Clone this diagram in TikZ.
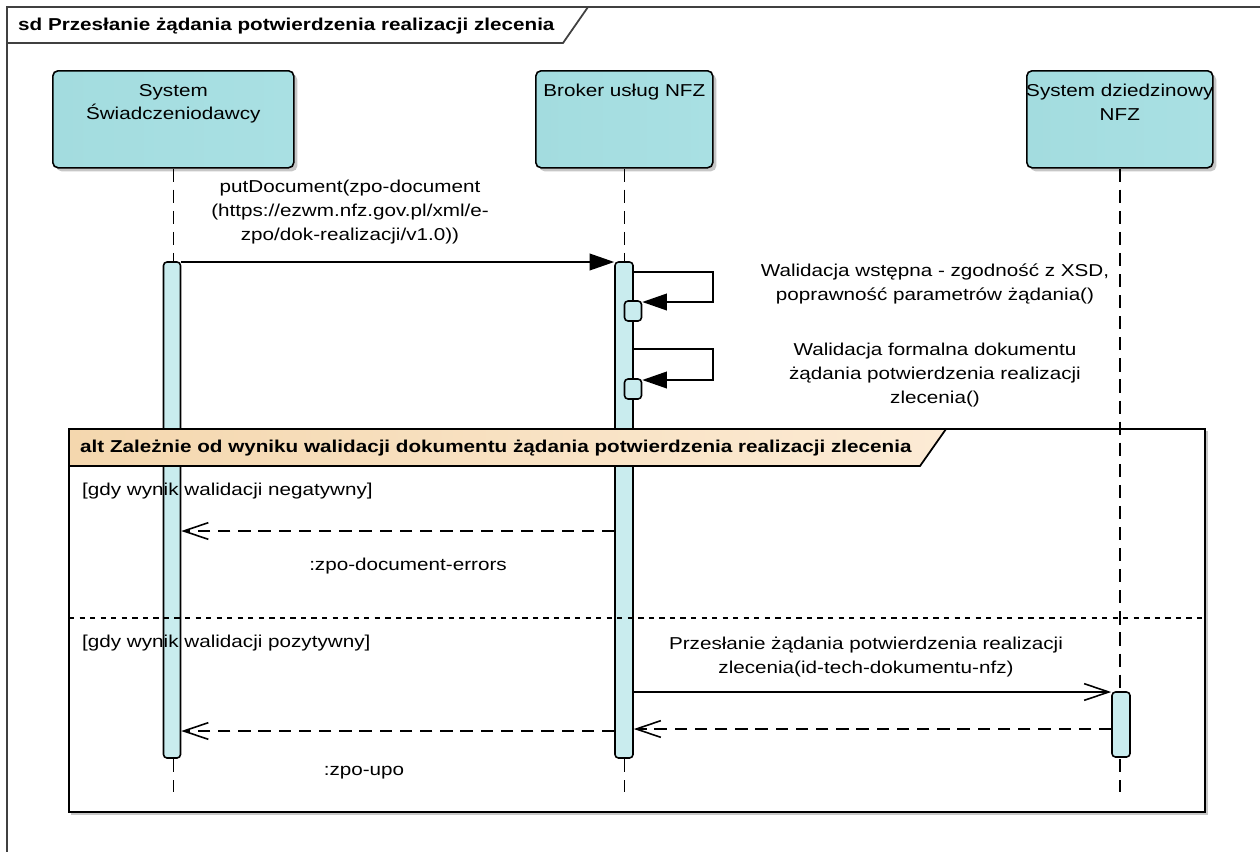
\documentclass[tikz,border=0pt]{standalone}
\usepackage{fontspec}
\setmainfont{Liberation Sans}[FakeStretch=1.2]
\usetikzlibrary{arrows.meta,shadows}
\definecolor{boxL}{HTML}{A3DCDF}
\definecolor{boxM}{HTML}{CDEEF0}
\definecolor{boxR}{HTML}{A9E0E3}
\definecolor{actc}{HTML}{C9ECEE}
\definecolor{altL}{HTML}{F4D7AE}
\definecolor{altR}{HTML}{FCEBD5}
\def\px{0.02cm}

\begin{document}
\begin{tikzpicture}[x=\px, y=-\px,
	font=\fontsize{9.8pt}{13.5pt}\selectfont,
	outer/.style={draw=black!75, line width=1pt},
	lifebox/.style={draw, line width=0.9pt, rounded corners=3pt, anchor=north west, inner sep=0pt,
		left color=boxL, middle color=boxM, right color=boxR,
		drop shadow={shadow xshift=2pt, shadow yshift=-2pt, fill=black!22, opacity=1}},
	boxtext/.style={anchor=north, align=center},
	lifeline/.style={line width=0.9pt, dash pattern=on 7.5pt off 4.5pt},
	act/.style={draw, fill=actc, line width=0.9pt, rounded corners=2pt, inner sep=0pt, minimum width=17*\px},
	call/.style={line width=0.9pt, -{Triangle[length=14pt, width=9.5pt]}},
	send/.style={line width=0.9pt, -{Straight Barb[length=14pt, width=9.5pt]}},
	reply/.style={send, dash pattern=on 7pt off 4.5pt},
	msgtext/.style={align=center},
	fragment/.style={draw, line width=1pt},
	althead/.style={draw, line width=1pt, left color=altL, right color=altR}]
			%%%%% START %%%%%
			\def\xsys{172}
			\def\xbrk{624}
			\def\xnfz{1121}
			\def\xloop{713}
			\def\ylife{70}
			\def\hlife{97}

			\useasboundingbox (0,0) rectangle (1260,852);

			% frame of the diagram
			\draw[outer] (1260,7) -- (7,7) -- (7,852);
			\draw[outer] (7,43) -- (563,43) -- (588,7);
			\node[anchor=west, font=\fontsize{9.8pt}{12pt}\selectfont\bfseries] (title) at (12,26) {sd Przesłanie żądania potwierdzenia realizacji zlecenia};

			% lifelines
			\node[lifebox, minimum width=241*\px, minimum height=\hlife*\px] (sys) at (52,\ylife) {};
			\node[lifebox, minimum width=177*\px, minimum height=\hlife*\px] (brk) at (535,\ylife) {};
			\node[lifebox, minimum width=186*\px, minimum height=\hlife*\px] (nfz) at (1026,\ylife) {};
			\node[boxtext] (syslbl) at ([yshift=-4.5pt]sys.north) {System\\Świadczeniodawcy};
			\node[boxtext] (brklbl) at ([yshift=-4.5pt]brk.north) {Broker usług NFZ};
			\node[boxtext] (nfzlbl) at ([yshift=-4.5pt]nfz.north) {System dziedzinowy\\NFZ};

			\coordinate (yend) at (0,792);
			\draw[lifeline] (sys.south) -- (sys.south |- yend);
			\draw[lifeline] (brk.south) -- (brk.south |- yend);
			\draw[lifeline] (nfz.south) -- (nfz.south |- yend);

			% activations
			\node[act, minimum height=496*\px] (sysact) at (\xsys,510) {};
			\node[act, minimum width=18*\px, minimum height=496*\px] (brkact) at (\xbrk,510) {};
			\node[act, minimum height=20*\px] (brkself1) at (\xbrk+9,311) {};
			\node[act, minimum height=20*\px] (brkself2) at (\xbrk+9,389) {};
			\node[act, minimum width=18*\px, minimum height=65*\px] (nfzact) at (\xnfz,724.5) {};

			% messages
			\coordinate (yput) at (0,262);
			\draw[call] (sysact.east |- yput) -- (brkact.west |- yput);
			\node[msgtext] (putlbl) at (350,212) {putDocument(zpo-document\\(https://ezwm.nfz.gov.pl/xml/e-\\zpo/dok-realizacji/v1.0))};

			\coordinate (xloop) at (\xloop,0);
			\coordinate (yval1) at (0,272);
			\coordinate (yval1b) at (0,302);
			\draw[call] (brkact.east |- yval1) -| (xloop |- yval1b) -- (brkself1.east |- yval1b);
			\node[msgtext] (val1lbl) at (935,284) {Walidacja wstępna - zgodność z XSD,\\poprawność parametrów żądania()};

			\coordinate (yval2) at (0,349);
			\coordinate (yval2b) at (0,380);
			\draw[call] (brkact.east |- yval2) -| (xloop |- yval2b) -- (brkself2.east |- yval2b);
			\node[msgtext] (val2lbl) at (935,375) {Walidacja formalna dokumentu\\żądania potwierdzenia realizacji\\zlecenia()};

			% alt fragment
			\draw[black!22, line width=1.2pt] (71,814) -- (1207,814) -- (1207,431);
			\draw[fragment] (69,429) rectangle (1205,812);
			\draw[althead] (69,429) -- (946,429) -- (920,466) -- (69,466) -- cycle;
			\node[anchor=west, font=\fontsize{9.8pt}{12pt}\selectfont\bfseries] (altlbl) at (74,448) {alt Zależnie od wyniku walidacji dokumentu żądania potwierdzenia realizacji zlecenia};
			\draw[line width=1pt, dash pattern=on 3pt off 3pt] (69,618) -- (1205,618);

			\node[anchor=west] (guard1) at (76,491) {[gdy wynik walidacji negatywny]};
			\coordinate (yerr) at (0,531);
			\draw[reply] (brkact.west |- yerr) -- (sysact.east |- yerr);
			\node[msgtext] (errlbl) at (408,566) {:zpo-document-errors};

			\node[anchor=west] (guard2) at (76,643) {[gdy wynik walidacji pozytywny]};
			\coordinate (yprz) at (0,692);
			\draw[send] (brkact.east |- yprz) -- (nfzact.west |- yprz);
			\node[msgtext] (przlbl) at (866,657) {Przesłanie żądania potwierdzenia realizacji\\zlecenia(id-tech-dokumentu-nfz)};

			\coordinate (yret1) at (0,729);
			\draw[reply] (nfzact.west |- yret1) -- (brkact.east |- yret1);
			\coordinate (yret2) at (0,731);
			\draw[reply] (brkact.west |- yret2) -- (sysact.east |- yret2);
			\node[msgtext] (upolbl) at (364,773) {:zpo-upo};
			%%%%% END %%%%%
\end{tikzpicture}
\end{document}
